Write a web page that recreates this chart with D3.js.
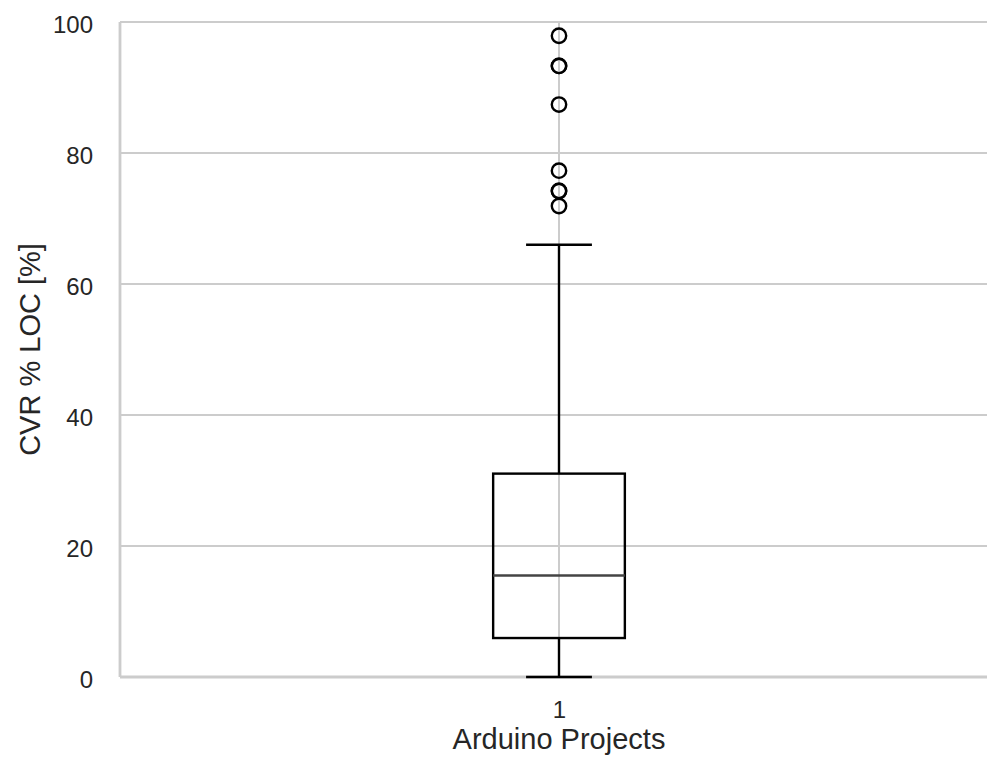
<!DOCTYPE html>
<html>
<head>
<meta charset="utf-8">
<script src="https://cdn.jsdelivr.net/npm/d3@7"></script>
<style>
  body { margin: 0; background: #fff; }
  svg text { font-family: "Liberation Sans", Arial, sans-serif; fill: #262626; }
</style>
</head>
<body>
<div id="chart"></div>
<script>
// data
const categories = ["1"];
const q1 = [5.95];
const median = [15.5];
const q3 = [31.05];
const whiskerLow = [0];
const whiskerHigh = [66];
const outliers = [[97.9, 93.3, 93.3, 87.4, 77.3, 74.2, 74.2, 71.9]];
const yTicks = [0, 20, 40, 60, 80, 100];

const width = 987, height = 762;
const margin = { top: 22, right: -11, bottom: 85, left: 120 };
const lineW = 2.4;

const svg = d3.select("#chart").append("svg")
  .attr("width", width)
  .attr("height", height);

const x = d3.scaleLinear()
  .domain([0.5, categories.length + 0.5])
  .range([margin.left, width - margin.right]);

const y = d3.scaleLinear()
  .domain([0, 100])
  .range([height - margin.bottom, margin.top]);

const boxW = x(1.075) - x(0.925);
const capW = boxW / 2;

// grid
svg.append("g")
  .selectAll("line.hgrid")
  .data(yTicks)
  .join("line")
  .attr("class", "hgrid")
  .attr("x1", x.range()[0])
  .attr("x2", x.range()[1])
  .attr("y1", d => y(d))
  .attr("y2", d => y(d))
  .attr("stroke", "#cccccc")
  .attr("stroke-width", 2);

svg.append("g")
  .selectAll("line.vgrid")
  .data(categories)
  .join("line")
  .attr("class", "vgrid")
  .attr("x1", (d, i) => x(i + 1))
  .attr("x2", (d, i) => x(i + 1))
  .attr("y1", y(0))
  .attr("y2", y(100))
  .attr("stroke", "#cccccc")
  .attr("stroke-width", 2);

// left spine and bottom spine
svg.append("line")
  .attr("x1", x.range()[0]).attr("x2", x.range()[0])
  .attr("y1", y(0)).attr("y2", y(100))
  .attr("stroke", "#cccccc").attr("stroke-width", 2.8);
svg.append("line")
  .attr("x1", x.range()[0]).attr("x2", x.range()[1])
  .attr("y1", y(0)).attr("y2", y(0))
  .attr("stroke", "#cccccc").attr("stroke-width", 2.8);

// y axis tick labels
const yAxis = d3.axisLeft(y).tickValues(yTicks).tickSize(0).tickPadding(27);
const gy = svg.append("g")
  .attr("transform", `translate(${x.range()[0]},0)`)
  .call(yAxis)
  .attr("font-size", null)
  .attr("font-family", null);
gy.select(".domain").remove();
gy.selectAll("text")
  .style("font-size", "24px")
  .style("fill", "#262626")
  .attr("dy", "0.45em");

// x axis tick labels
const xAxis = d3.axisBottom(x).tickValues(categories.map((d, i) => i + 1))
  .tickFormat((d, i) => categories[i]).tickSize(0).tickPadding(0);
const gx = svg.append("g")
  .attr("transform", `translate(0,${y(0)})`)
  .call(xAxis)
  .attr("font-size", null)
  .attr("font-family", null);
gx.select(".domain").remove();
gx.selectAll("text")
  .style("font-size", "24px")
  .style("fill", "#262626")
  .attr("y", 41)
  .attr("dy", null);

// axis titles
svg.append("text")
  .attr("x", x(1))
  .attr("y", 749)
  .attr("text-anchor", "middle")
  .style("font-size", "29px")
  .text("Arduino Projects");

svg.append("text")
  .attr("transform", `translate(40,${y(50)}) rotate(-90)`)
  .attr("text-anchor", "middle")
  .style("font-size", "29px")
  .text("CVR % LOC [%]");

// boxes
const boxes = svg.append("g")
  .selectAll("g.box")
  .data(categories)
  .join("g")
  .attr("class", "box");

boxes.append("line")
  .attr("x1", (d, i) => x(i + 1)).attr("x2", (d, i) => x(i + 1))
  .attr("y1", (d, i) => y(q3[i])).attr("y2", (d, i) => y(whiskerHigh[i]))
  .attr("stroke", "#000").attr("stroke-width", lineW);
boxes.append("line")
  .attr("x1", (d, i) => x(i + 1)).attr("x2", (d, i) => x(i + 1))
  .attr("y1", (d, i) => y(q1[i])).attr("y2", (d, i) => y(whiskerLow[i]))
  .attr("stroke", "#000").attr("stroke-width", lineW);
boxes.append("line")
  .attr("x1", (d, i) => x(i + 1) - capW / 2).attr("x2", (d, i) => x(i + 1) + capW / 2)
  .attr("y1", (d, i) => y(whiskerHigh[i])).attr("y2", (d, i) => y(whiskerHigh[i]))
  .attr("stroke", "#000").attr("stroke-width", lineW);
boxes.append("line")
  .attr("x1", (d, i) => x(i + 1) - capW / 2).attr("x2", (d, i) => x(i + 1) + capW / 2)
  .attr("y1", (d, i) => y(whiskerLow[i])).attr("y2", (d, i) => y(whiskerLow[i]))
  .attr("stroke", "#000").attr("stroke-width", lineW);
boxes.append("rect")
  .attr("x", (d, i) => x(i + 1) - boxW / 2)
  .attr("width", boxW)
  .attr("y", (d, i) => y(q3[i]))
  .attr("height", (d, i) => y(q1[i]) - y(q3[i]))
  .attr("fill", "none")
  .attr("stroke", "#000").attr("stroke-width", lineW);
boxes.append("line")
  .attr("x1", (d, i) => x(i + 1) - boxW / 2).attr("x2", (d, i) => x(i + 1) + boxW / 2)
  .attr("y1", (d, i) => y(median[i])).attr("y2", (d, i) => y(median[i]))
  .attr("stroke", "#444").attr("stroke-width", lineW);

// outliers
boxes.each(function(d, i) {
  d3.select(this).selectAll("circle")
    .data(outliers[i])
    .join("circle")
    .attr("cx", x(i + 1))
    .attr("cy", v => y(v))
    .attr("r", 7.2)
    .attr("fill", "none")
    .attr("stroke", "#000")
    .attr("stroke-width", lineW);
});
</script>
</body>
</html>
